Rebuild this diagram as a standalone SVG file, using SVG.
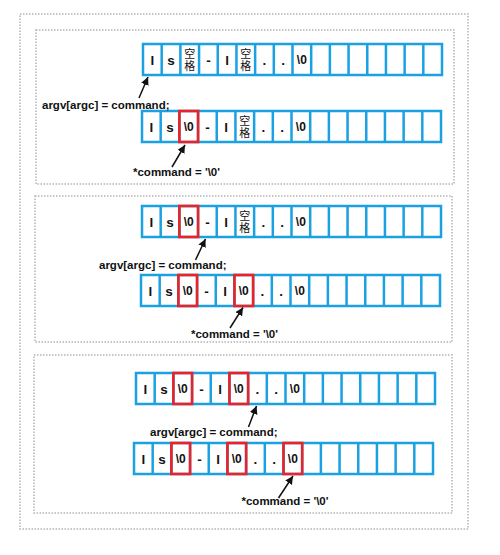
<svg xmlns="http://www.w3.org/2000/svg" xmlns:xlink="http://www.w3.org/1999/xlink" width="500" height="555" viewBox="0 0 500 555">
<style>
.frame{fill:none;stroke:#b4b4b4;stroke-width:1.5;stroke-dasharray:1.5 1.5}
.c{font-family:"Liberation Sans","Noto Sans CJK SC",sans-serif;font-weight:bold;font-size:13.5px;text-anchor:middle;fill:#111}
.z{font-family:"Liberation Sans","Noto Sans CJK SC",sans-serif;font-weight:bold;font-size:12px;text-anchor:middle;fill:#111}
.cj{font-family:"Noto Sans CJK SC",sans-serif;font-size:11px;writing-mode:vertical-rl;text-anchor:start;letter-spacing:1px;fill:#111}
.lbl{font-family:"Liberation Sans","Noto Sans CJK SC",sans-serif;font-weight:bold;font-size:11.5px;fill:#111}
.red{fill:none;stroke:#e8232a;stroke-width:2.6}
.arr{fill:none;stroke:#111;stroke-width:1.5;marker-end:url(#ah)}
</style>
<defs>
<marker id="ah" markerUnits="userSpaceOnUse" markerWidth="9" markerHeight="8" refX="8" refY="4" orient="auto">
<path d="M0,0 L8,4 L0,8 Z" fill="#111"/>
</marker>
<g id="grid">
<rect x="0" y="0" width="299" height="31" fill="#fff" stroke="#1ba1e2" stroke-width="2.5"/>
<path d="M18.69 0V31M37.38 0V31M56.06 0V31M74.75 0V31M93.44 0V31M112.13 0V31M130.81 0V31M149.5 0V31M168.19 0V31M186.88 0V31M205.56 0V31M224.25 0V31M242.94 0V31M261.63 0V31M280.31 0V31" stroke="#1ba1e2" stroke-width="2.5" fill="none"/>
</g>
</defs>
<rect width="500" height="555" fill="#fff"/>
<rect id="outer" class="frame" x="20" y="14" width="448" height="515"/>
<rect id="panel1" class="frame" x="36" y="30" width="418" height="154"/>
<rect id="panel2" class="frame" x="35" y="196" width="417" height="146"/>
<rect id="panel3" class="frame" x="34" y="355" width="418" height="158"/>

<g id="array1" transform="translate(143,44)">
<use xlink:href="#grid" href="#grid"/>
<text class="c" x="9.34" y="20.5">l</text>
<text class="c" x="28.03" y="20.5">s</text>
<text class="cj" x="46.72" y="4">空格</text>
<text class="c" x="65.41" y="20.5">-</text>
<text class="c" x="84.09" y="20.5">l</text>
<text class="cj" x="102.78" y="4">空格</text>
<text class="c" x="121.47" y="20.5">.</text>
<text class="c" x="140.16" y="20.5">.</text>
<text class="z" x="158.84" y="20">\0</text>
</g>

<g id="array2" transform="translate(142,111)">
<use xlink:href="#grid" href="#grid"/>
<text class="c" x="9.34" y="20.5">l</text>
<text class="c" x="28.03" y="20.5">s</text>
<text class="z" x="46.72" y="20">\0</text>
<text class="c" x="65.41" y="20.5">-</text>
<text class="c" x="84.09" y="20.5">l</text>
<text class="cj" x="102.78" y="4">空格</text>
<text class="c" x="121.47" y="20.5">.</text>
<text class="c" x="140.16" y="20.5">.</text>
<text class="z" x="158.84" y="20">\0</text>
<rect class="red" x="37.38" y="0" width="18.69" height="31"/>
</g>

<g id="array3" transform="translate(142,206)">
<use xlink:href="#grid" href="#grid"/>
<text class="c" x="9.34" y="20.5">l</text>
<text class="c" x="28.03" y="20.5">s</text>
<text class="z" x="46.72" y="20">\0</text>
<text class="c" x="65.41" y="20.5">-</text>
<text class="c" x="84.09" y="20.5">l</text>
<text class="cj" x="102.78" y="4">空格</text>
<text class="c" x="121.47" y="20.5">.</text>
<text class="c" x="140.16" y="20.5">.</text>
<text class="z" x="158.84" y="20">\0</text>
<rect class="red" x="37.38" y="0" width="18.69" height="31"/>
</g>

<g id="array4" transform="translate(141,275)">
<use xlink:href="#grid" href="#grid"/>
<text class="c" x="9.34" y="20.5">l</text>
<text class="c" x="28.03" y="20.5">s</text>
<text class="z" x="46.72" y="20">\0</text>
<text class="c" x="65.41" y="20.5">-</text>
<text class="c" x="84.09" y="20.5">l</text>
<text class="z" x="102.78" y="20">\0</text>
<text class="c" x="121.47" y="20.5">.</text>
<text class="c" x="140.16" y="20.5">.</text>
<text class="z" x="158.84" y="20">\0</text>
<rect class="red" x="37.38" y="0" width="18.69" height="31"/>
<rect class="red" x="93.44" y="0" width="18.69" height="31"/>
</g>

<g id="array5" transform="translate(136,373)">
<use xlink:href="#grid" href="#grid"/>
<text class="c" x="9.34" y="20.5">l</text>
<text class="c" x="28.03" y="20.5">s</text>
<text class="z" x="46.72" y="20">\0</text>
<text class="c" x="65.41" y="20.5">-</text>
<text class="c" x="84.09" y="20.5">l</text>
<text class="z" x="102.78" y="20">\0</text>
<text class="c" x="121.47" y="20.5">.</text>
<text class="c" x="140.16" y="20.5">.</text>
<text class="z" x="158.84" y="20">\0</text>
<rect class="red" x="37.38" y="0" width="18.69" height="31"/>
<rect class="red" x="93.44" y="0" width="18.69" height="31"/>
</g>

<g id="array6" transform="translate(134,443)">
<use xlink:href="#grid" href="#grid"/>
<text class="c" x="9.34" y="20.5">l</text>
<text class="c" x="28.03" y="20.5">s</text>
<text class="z" x="46.72" y="20">\0</text>
<text class="c" x="65.41" y="20.5">-</text>
<text class="c" x="84.09" y="20.5">l</text>
<text class="z" x="102.78" y="20">\0</text>
<text class="c" x="121.47" y="20.5">.</text>
<text class="c" x="140.16" y="20.5">.</text>
<text class="z" x="158.84" y="20">\0</text>
<rect class="red" x="37.38" y="0" width="18.69" height="31"/>
<rect class="red" x="93.44" y="0" width="18.69" height="31"/>
<rect class="red" x="149.5" y="0" width="18.69" height="31"/>
</g>

<g id="labels">
<text id="label1" class="lbl" x="42" y="108.5">argv[argc] = command;</text>
<text id="label2" class="lbl" x="133" y="175.5">*command = '\0'</text>
<text id="label3" class="lbl" x="99" y="268.5">argv[argc] = command;</text>
<text id="label4" class="lbl" x="191" y="338">*command = '\0'</text>
<text id="label5" class="lbl" x="150" y="436">argv[argc] = command;</text>
<text id="label6" class="lbl" x="241.5" y="505">*command = '\0'</text>
</g>

<g id="connectors">
<path class="arr" d="M139,98 L148,77"/>
<path class="arr" d="M172,167 L185,145"/>
<path class="arr" d="M195.5,260 L205.5,239"/>
<path class="arr" d="M230,328 L243,307.5"/>
<path class="arr" d="M248.5,427 L256.5,406"/>
<path class="arr" d="M278.5,498 L293,476"/>
</g>
</svg>
